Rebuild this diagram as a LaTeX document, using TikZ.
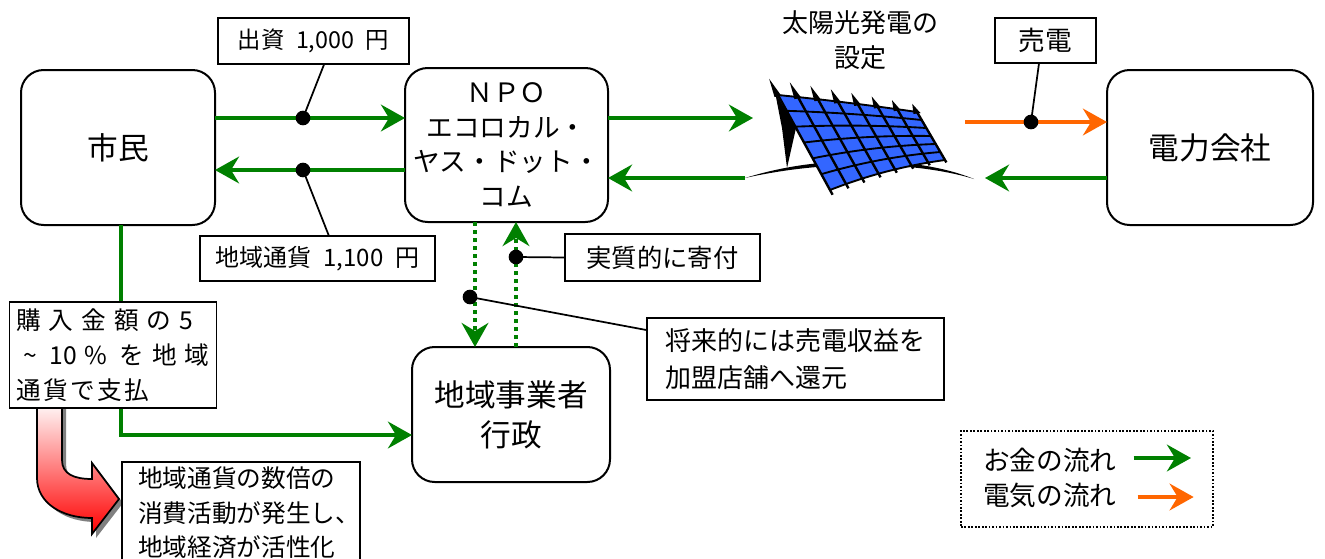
\documentclass[tikz,border=0pt]{standalone}
\usepackage{fontspec}
\setmainfont{Noto Sans CJK JP}
\newfontfamily\jpwide[LetterSpace=32]{Noto Sans CJK JP}
\newfontfamily\jpmid[LetterSpace=10]{Noto Sans CJK JP}
\usetikzlibrary{arrows.meta,calc}

\definecolor{flowgreen}{RGB}{0,128,0}
\definecolor{flowred}{RGB}{255,102,0}
\definecolor{cellblue}{RGB}{51,102,255}

\tikzset{
  every node/.style={inner sep=0pt, outer sep=0pt},
  actor/.style={draw, line width=1.5pt, rounded corners=17pt, fill=white, align=center},
  tag/.style={draw, line width=1.2pt, fill=white, align=left},
  money/.style={draw=flowgreen, line width=3pt, -{Stealth[length=18pt,width=20pt,inset=6pt]}},
  power/.style={draw=flowred, line width=3pt, -{Stealth[length=18pt,width=20pt,inset=6pt]}},
  dotflow/.style={dash pattern=on 3pt off 3pt},
  dot/.style={circle, fill=black, minimum size=11pt},
  callout/.style={draw=black, line width=1.3pt},
}

\begin{document}
\begin{tikzpicture}[x=0.75pt, y=-0.75pt]
\useasboundingbox (0,0) rectangle (1325,558);
\clip (0,0) rectangle (1325,558);

% main parties
\node[actor, minimum width=145.5pt, minimum height=116.25pt, font=\fontsize{23}{28}\selectfont] (shimin) at (118,147.5) {市民};
\node[actor, minimum width=152.25pt, minimum height=115.5pt, font=\fontsize{20}{26}\selectfont] (npo) at (506.5,145) {ＮＰＯ\\エコロカル・\\ヤス・ドット・\\コム};
\node[actor, minimum width=154.5pt, minimum height=116.25pt, font=\fontsize{23}{28}\selectfont] (denryoku) at (1210,147.5) {電力会社};
\node[actor, minimum width=148.5pt, minimum height=101.25pt, font=\fontsize{23}{30}\selectfont] (jigyo) at (511,414.5) {地域事業者\\行政};
\node[align=center, font=\fontsize{19.5}{26}\selectfont] (sunlabel) at (860,40) {太陽光発電の\\設定};

% labels
\node[tag, minimum width=143.25pt, minimum height=34.5pt, font=\fontsize{17.5}{20}\selectfont] (shusshi) at (313.5,41) {出資\hspace{0.5em}1,000\hspace{0.5em}円};
\node[tag, minimum width=176.25pt, minimum height=33.75pt, font=\fontsize{18}{20}\selectfont] (chiiki) at (317.5,258.5) {地域通貨\hspace{0.5em}1,100\hspace{0.5em}円};
\node[tag, minimum width=146.25pt, minimum height=35.25pt, font=\fontsize{19}{22}\selectfont] (kifu) at (662.5,257.5) {実質的に寄付};
\node[tag, minimum width=222.75pt, minimum height=61.5pt, font=\fontsize{19.5}{28}\selectfont] (kangen) at (795.5,359) {将来的には売電収益を\\加盟店舗へ還元};
\node[tag, minimum width=75.75pt, minimum height=33.75pt, font=\fontsize{20}{24}\selectfont] (baiden) at (1045.5,40.5) {売電};

% solar array: ground line, support and curved grid of cells
\fill (745,178) .. controls (790,164) and (830,161) .. (865,161) .. controls (905,161) and (945,167) .. (974,179) .. controls (945,170) and (905,165) .. (865,165) .. controls (830,165) and (790,168) .. (745,178) -- cycle;
\fill (775,92) -- (796,128) -- (787,168) -- (782,128) -- cycle;
\fill[cellblue] (778,95) .. controls (824.7,99.7) and (871,105) .. (917,112) -- (945,160) .. controls (905.3,164.7) and (866.7,175.3) .. (830,190) -- cycle;
\foreach \j in {0,...,6} {
  \pgfmathsetmacro\v{\j/6}
  \pgfmathsetmacro\sx{778+52*\v}  \pgfmathsetmacro\sy{95+95*\v}
  \pgfmathsetmacro\cx{848+38*\v}  \pgfmathsetmacro\cy{102+66*\v}
  \pgfmathsetmacro\ex{917+28*\v}  \pgfmathsetmacro\ey{112+48*\v}
  \pgfmathsetmacro\ax{\sx+2/3*(\cx-\sx)} \pgfmathsetmacro\ay{\sy+2/3*(\cy-\sy)}
  \pgfmathsetmacro\bx{\ex+2/3*(\cx-\ex)} \pgfmathsetmacro\by{\ey+2/3*(\cy-\ey)}
  \draw[line width=1.4pt] (\sx,\sy) .. controls (\ax,\ay) and (\bx,\by) .. (\ex,\ey);
}
\foreach \i in {0,...,7} {
  \pgfmathsetmacro\u{\i/7}
  \pgfmathsetmacro\tx{(1-\u)^2*778+2*\u*(1-\u)*848+\u^2*917}
  \pgfmathsetmacro\ty{(1-\u)^2*95+2*\u*(1-\u)*102+\u^2*112}
  \pgfmathsetmacro\qx{(1-\u)^2*830+2*\u*(1-\u)*886+\u^2*945}
  \pgfmathsetmacro\qy{(1-\u)^2*190+2*\u*(1-\u)*168+\u^2*160}
  \pgfmathsetmacro\px{\tx+0.17*(\tx-\qx)}
  \pgfmathsetmacro\py{\ty+0.17*(\ty-\qy)}
  \pgfmathsetmacro\rx{\qx+0.05*(\qx-\tx)}
  \pgfmathsetmacro\ry{\qy+0.05*(\qy-\ty)}
  \draw[line width=1.8pt] (\tx,\ty) -- (\rx,\ry);
  \fill (\px,\py) -- (\tx-3.5,\ty+2) -- (\tx+3.5,\ty+1) -- cycle;
}

% flow levels
\coordinate (yTop) at (0,118);
\coordinate (yMid) at (0,170);
\coordinate (yLow) at (0,178);
\coordinate (yOr) at (0,122);
\coordinate (yBot) at (0,435);
\coordinate (xCit) at (121,0);
\coordinate (xDown) at (475,0);
\coordinate (xUp) at (516,0);
\coordinate (sunIn) at (753,118);
\coordinate (sunOut) at (745,178);
\coordinate (sunEast) at (965,122);
\coordinate (sunBack) at (985,178);

% money and power flows
\draw[money] (shimin.east |- yTop) -- (npo.west |- yTop);
\draw[money] (npo.west |- yMid) -- (shimin.east |- yMid);
\draw[money] (npo.east |- yTop) -- (sunIn);
\draw[money] (sunOut) -- (npo.east |- yLow);
\draw[power] (sunEast) -- (denryoku.west |- yOr);
\draw[money] (denryoku.west |- yLow) -- (sunBack);
\draw[money, dotflow] (npo.south -| xDown) -- (jigyo.north -| xDown);
\draw[money, dotflow] (jigyo.north -| xUp) -- (npo.south -| xUp);
\draw[money] (shimin.south -| xCit) |- (jigyo.west |- yBot);

% callouts
\node[dot] (d1) at (303,118) {};
\node[dot] (d2) at (303,170) {};
\node[dot] (d3) at (1031,122) {};
\node[dot] (d4) at (516,257) {};
\node[dot] (d5) at (470,297) {};
\draw[callout] (d1.center) -- (shusshi.-65);
\draw[callout] (d2.center) -- (chiiki.63);
\draw[callout] (d3.center) -- (baiden.-106);
\draw[callout] (d4.center) -- (kifu.west);
\draw[callout] (d5.center) -- (kangen.169);

% bent arrow with shadow
\fill[black!50] (41,404) -- (41,482) .. controls (41,507) and (66,522) .. (96,522) -- (96,538) -- (123,503) -- (96,467) -- (96,483) .. controls (78,483) and (66,478) .. (66,464) -- (66,404) -- cycle;
\shade[top color=white, bottom color=red, draw=black, line width=1.3pt] (37,400) -- (37,478) .. controls (37,503) and (62,518) .. (92,518) -- (92,534) -- (119,499) -- (92,463) -- (92,479) .. controls (74,479) and (62,474) .. (62,460) -- (62,400) -- cycle;

% notes
\node[tag, inner xsep=5pt, text width=145pt, minimum height=79.5pt, font=\fontsize{18.5}{26}\selectfont] (kounyu) at (113,355)
  {{\jpwide 購入金額の5}\\\hspace{0.3em}\textasciitilde\hspace{0.5em}10\hspace{0.3em}\%\hspace{0.5em}{\jpwide を地域}\\{\jpmid 通貨で支払}};
\node[tag, inner xsep=12pt, text width=154.5pt, minimum height=76.5pt, font=\fontsize{18.5}{26}\selectfont] (kasseika) at (241,513)
  {地域通貨の数倍の\\消費活動が発生し、\\地域経済が活性化};

% legend
\node[draw, line width=1.2pt, dash pattern=on 1.3pt off 1.3pt, minimum width=189pt, minimum height=72pt] (legend) at (1087,479) {};
\node[anchor=west, font=\fontsize{20}{24}\selectfont] (lgmoney) at (983,460) {お金の流れ};
\node[anchor=west, font=\fontsize{20}{24}\selectfont] (lgpower) at (983,495) {電気の流れ};
\draw[money] ([xshift=13pt]lgmoney.east |- 0,458) -- ++(43pt,0);
\draw[power] ([xshift=16pt]lgpower.east |- 0,497) -- ++(42pt,0);
\end{tikzpicture}
\end{document}
